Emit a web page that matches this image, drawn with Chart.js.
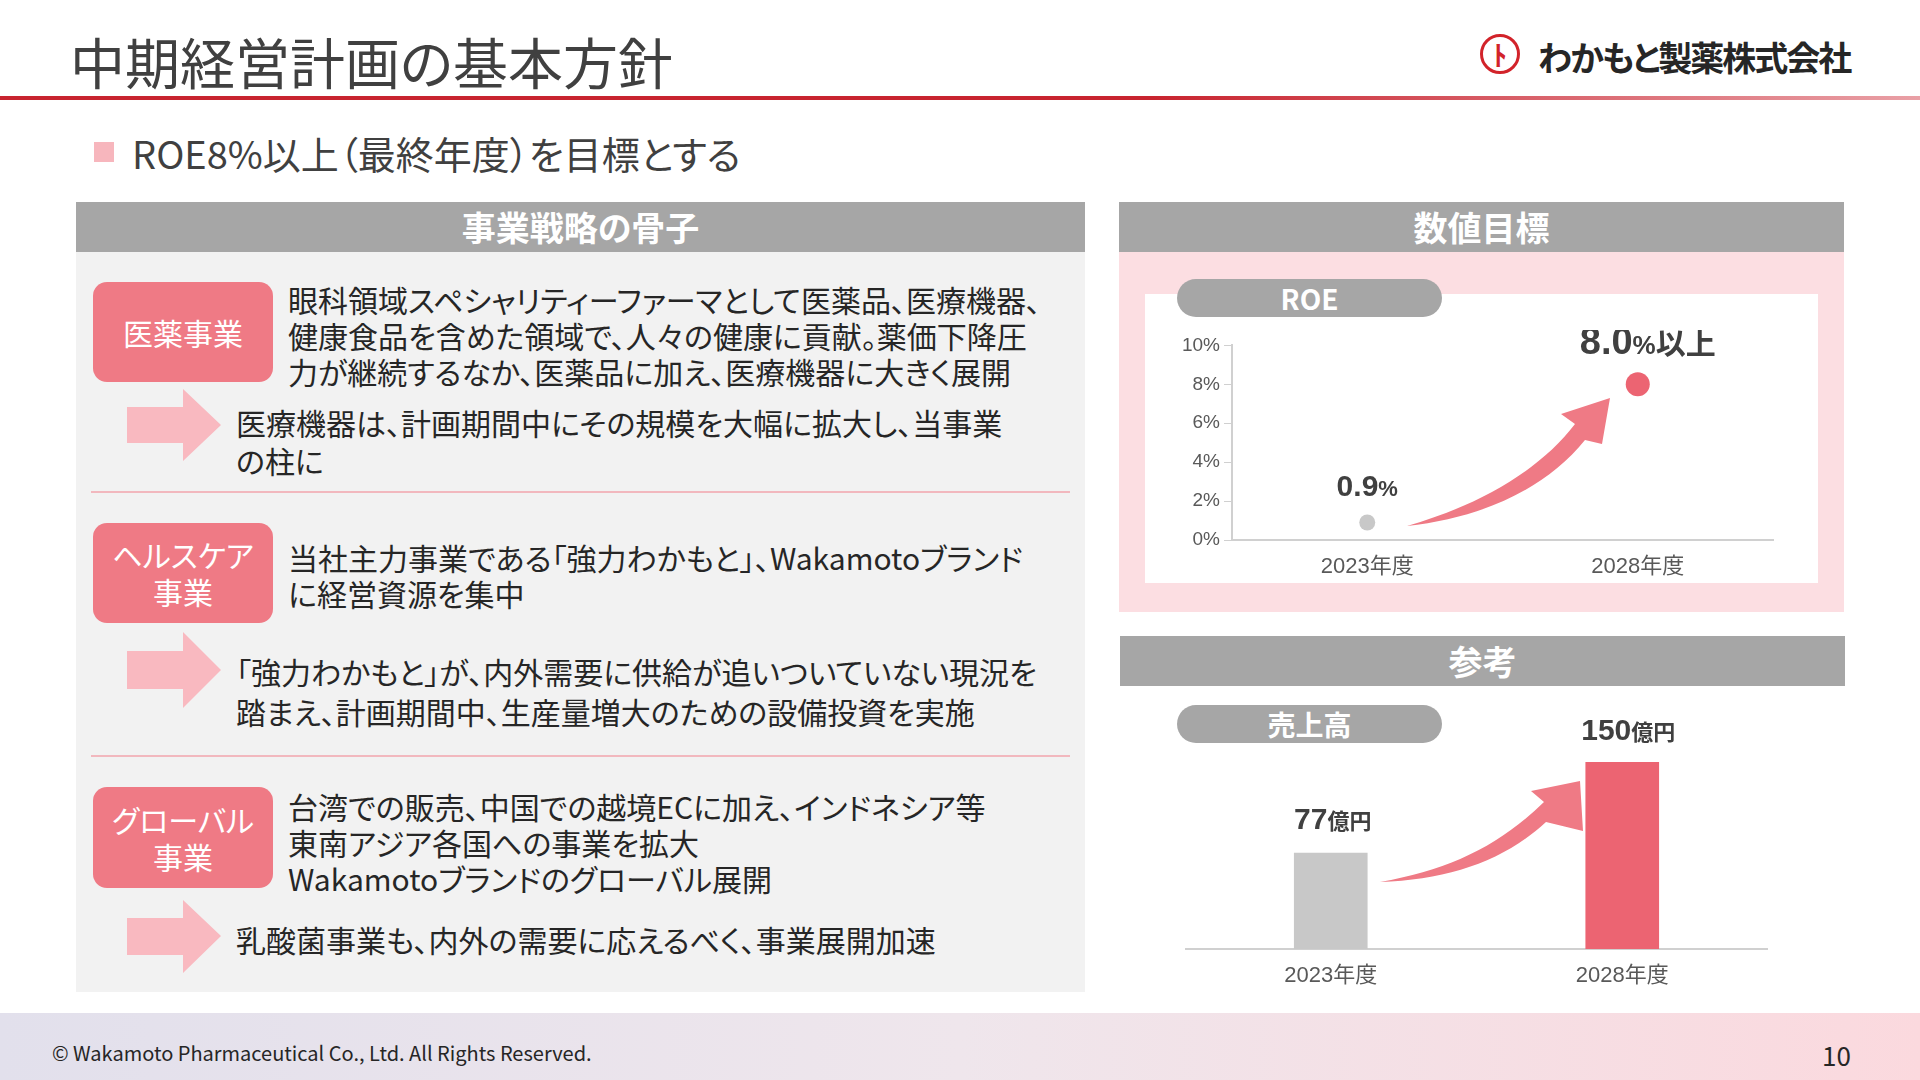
<!DOCTYPE html>
<html><head><meta charset="utf-8">
<script src="https://cdn.jsdelivr.net/npm/chart.js@4.4.1/dist/chart.umd.min.js"></script>
<style>
body{margin:0;width:1920px;height:1080px;position:relative;overflow:hidden;background:#fff;font-family:"Noto Sans CJK JP","Noto Sans",sans-serif;color:#404040;font-feature-settings:"palt"}
.a{position:absolute}
.hdr{background:#a6a6a6;color:#fff;font-weight:bold;font-size:34px;text-align:center;line-height:50px}
.pill{background:#ef7a85;color:#fff;font-size:30px;border-radius:14px;display:flex;align-items:center;justify-content:center;text-align:center;line-height:37px}
.txt{font-size:30px;line-height:36px;color:#262626;white-space:nowrap}
.gp{background:#a6a6a6;color:#fff;font-weight:bold;font-size:28px;border-radius:20px;text-align:center;line-height:38px}
.sep{height:2px;background:#f2b8be}
</style></head><body>
<div class="a" style="left:70px;top:20px;font-size:55px;color:#404040">中期経営計画の基本方針</div>
<div class="a" style="left:0;top:96px;width:1920px;height:4px;background:linear-gradient(90deg,#c8242f,#c8242f 60%,#e9a0a6)"></div>
<div class="a" style="left:1480px;top:34px;width:40px;height:40px;border:3px solid #d2232a;border-radius:50%;box-sizing:border-box;color:#d2232a;font-weight:bold;font-size:28px;text-align:center;line-height:34px">ﾄ</div>
<div class="a" style="left:1538px;top:32px;font-size:34px;font-weight:bold;color:#262626;letter-spacing:-2px">わかもと製薬株式会社</div>
<div class="a" style="left:94px;top:142px;width:20px;height:20px;background:#f7b6bd"></div>
<div class="a" style="left:132px;top:125px;font-size:38px;color:#404040">ROE8%以上（最終年度）を目標とする</div>

<div class="a" style="left:76px;top:202px;width:1009px;height:790px;background:#f2f2f2"></div>
<div class="a hdr" style="left:76px;top:202px;width:1009px">事業戦略の骨子</div>

<div class="a pill" style="left:93px;top:282px;width:180px;height:100px">医薬事業</div>
<div class="a txt" style="left:288px;top:281px">眼科領域スペシャリティーファーマとして医薬品、医療機器、<br>健康食品を含めた領域で、人々の健康に貢献。薬価下降圧<br>力が継続するなか、医薬品に加え、医療機器に大きく展開</div>
<svg class="a" style="left:127px;top:389px" width="94" height="72"><polygon points="0,18 56,18 56,0 94,36 56,72 56,54 0,54" fill="#f9b9c0"/></svg>
<div class="a txt" style="left:236px;top:403px;line-height:38px">医療機器は、計画期間中にその規模を大幅に拡大し、当事業<br>の柱に</div>
<div class="a sep" style="left:91px;top:491px;width:979px"></div>

<div class="a pill" style="left:93px;top:523px;width:180px;height:100px">ヘルスケア<br>事業</div>
<div class="a txt" style="left:288px;top:539px">当社主力事業である「強力わかもと」、Wakamotoブランド<br>に経営資源を集中</div>
<svg class="a" style="left:127px;top:632px" width="94" height="76"><polygon points="0,19 56,19 56,0 94,38 56,76 56,57 0,57" fill="#f9b9c0"/></svg>
<div class="a txt" style="left:236px;top:651px;line-height:40px">「強力わかもと」が、内外需要に供給が追いついていない現況を<br>踏まえ、計画期間中、生産量増大のための設備投資を実施</div>
<div class="a sep" style="left:91px;top:755px;width:979px"></div>

<div class="a pill" style="left:93px;top:787px;width:180px;height:101px">グローバル<br>事業</div>
<div class="a txt" style="left:288px;top:788px">台湾での販売、中国での越境ECに加え、インドネシア等<br>東南アジア各国への事業を拡大<br>Wakamotoブランドのグローバル展開</div>
<svg class="a" style="left:127px;top:900px" width="94" height="73"><polygon points="0,18 56,18 56,0 94,36 56,73 56,55 0,55" fill="#f9b9c0"/></svg>
<div class="a txt" style="left:236px;top:921px">乳酸菌事業も、内外の需要に応えるべく、事業展開加速</div>

<div class="a" style="left:1119px;top:202px;width:725px;height:410px;background:#fcdee2"></div>
<div class="a hdr" style="left:1119px;top:202px;width:725px">数値目標</div>
<div class="a" style="left:1145px;top:294px;width:673px;height:289px;background:#fff"></div>
<div class="a gp" style="left:1177px;top:279px;width:265px">ROE</div>
<div class="a" style="left:1170px;top:330px;width:620px;height:255px"><canvas id="c1"></canvas></div>

<div class="a hdr" style="left:1120px;top:636px;width:725px">参考</div>
<div class="a gp" style="left:1177px;top:705px;width:265px">売上高</div>
<div class="a" style="left:1185px;top:690px;width:583px;height:305px"><canvas id="c2"></canvas></div>

<svg class="a" style="left:0;top:0;pointer-events:none" width="1920" height="1080">
<path d="M1407,526 C1480,518 1545,490 1585,440 L1602,444 L1610,398 L1561,414 L1575,424 C1540,470 1480,505 1407,526 Z" fill="#ef7a85"/>
<path d="M1380,882 C1450,880 1505,860 1546,822 L1583,831 L1580,781 L1531,791 L1544,802 C1500,845 1450,870 1380,882 Z" fill="#ef7a85"/>
</svg>

<div class="a" style="left:0;top:1013px;width:1920px;height:67px;background:linear-gradient(90deg,#e2e0ec,#efe6ec 50%,#fbd9de)"></div>
<div class="a" style="left:52px;top:1038px;font-size:20px;color:#262626">© Wakamoto Pharmaceutical Co., Ltd. All Rights Reserved.</div>
<div class="a" style="left:1822px;top:1036px;font-size:26px;color:#262626">10</div>

<script>
const years=["2023年度","2028年度"];
const roeValues=[0.9,8.0];
const roeLabels=[["0.9","%",""],["8.0","%","以上"]];
const roeTicks=[0,2,4,6,8,10];
const salesValues=[77,150];
const salesLabels=[["77","億円"],["150","億円"]];
const font='"Liberation Sans","Noto Sans CJK JP",sans-serif';

function drawParts(ctx,x,y,parts,sizes){
  let w=0;const ws=[];
  parts.forEach((p,i)=>{ctx.font=`bold ${sizes[i]}px ${font}`;const m=ctx.measureText(p).width;ws.push(m);w+=m;});
  let cx=x-w/2;ctx.fillStyle='#404040';ctx.textBaseline='alphabetic';ctx.textAlign='left';
  parts.forEach((p,i)=>{ctx.font=`bold ${sizes[i]}px ${font}`;ctx.fillText(p,cx,y);cx+=ws[i];});
}
const roeLab={id:'roeLab',afterDatasetsDraw(ch){const m=ch.getDatasetMeta(0),ctx=ch.ctx;
  m.data.forEach((pt,i)=>{const big=i===1;drawParts(ctx,pt.x+(big?10:0),pt.y-(big?30:26),roeLabels[i],big?[38,26,30]:[30,22,22]);});}};
const salesLab={id:'salesLab',afterDatasetsDraw(ch){const m=ch.getDatasetMeta(0),ctx=ch.ctx;
  m.data.forEach((b,i)=>{drawParts(ctx,b.x+(i?6:2),b.y-(i?22:24),salesLabels[i],[30,22]);});}};

new Chart(document.getElementById('c1'),{type:'line',
 data:{labels:years,datasets:[{data:roeValues,showLine:false,pointRadius:[8,12],pointHoverRadius:[8,12],
  pointBackgroundColor:['#c8c8c8','#ec6472'],pointBorderWidth:0}]},
 options:{responsive:true,maintainAspectRatio:false,animation:false,
  layout:{padding:{top:12,right:17}},
  plugins:{legend:{display:false},tooltip:{enabled:false}},
  scales:{
   x:{offset:true,grid:{display:false},border:{color:'#d0d0d0',width:2},
      ticks:{color:'#595959',font:{size:22,family:font},padding:6},afterFit(s){s.height=45;}},
   y:{min:0,max:10,afterBuildTicks(s){s.ticks=roeTicks.map(v=>({value:v}));},
      grid:{drawOnChartArea:false,tickLength:8,color:'#d0d0d0'},border:{color:'#d0d0d0',width:2},
      ticks:{color:'#595959',font:{size:19,family:font},callback:v=>v+'%',padding:4},afterFit(s){s.width=62;}}
  }},plugins:[roeLab]});

new Chart(document.getElementById('c2'),{type:'bar',
 data:{labels:years,datasets:[{data:salesValues,backgroundColor:['#c8c8c8','#ec6472'],barThickness:73}]},
 options:{responsive:true,maintainAspectRatio:false,animation:false,
  layout:{padding:{top:30}},
  plugins:{legend:{display:false},tooltip:{enabled:false}},
  scales:{
   x:{grid:{display:false},border:{color:'#d0d0d0',width:2},
      ticks:{color:'#595959',font:{size:22,family:font},padding:6},afterFit(s){s.height=46;}},
   y:{display:false,min:0,max:184}
  }},plugins:[salesLab]});
</script>
</body></html>
